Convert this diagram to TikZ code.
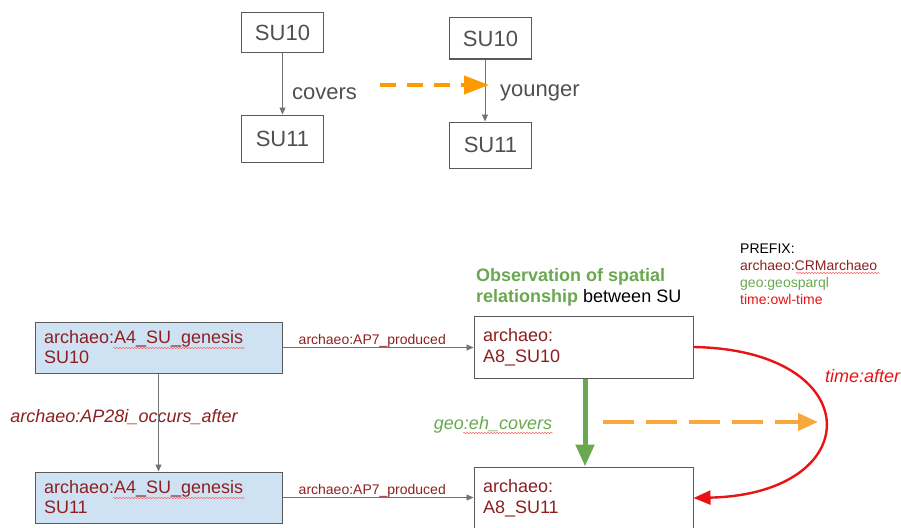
\documentclass[tikz,border=0pt]{standalone}
\usepackage{fontspec}
\setmainfont{Liberation Sans}
\usetikzlibrary{arrows.meta,decorations.pathmorphing}
\definecolor{boxgray}{RGB}{90,90,90}
\definecolor{linegray}{RGB}{115,115,115}
\definecolor{sutext}{RGB}{80,80,80}
\definecolor{archred}{RGB}{140,32,32}
\definecolor{geogreen}{RGB}{106,168,79}
\definecolor{timered}{RGB}{232,20,20}
\definecolor{toporange}{RGB}{255,153,0}
\definecolor{lightorange}{RGB}{249,168,60}
\definecolor{genblue}{RGB}{207,226,243}
\begin{document}
\begin{tikzpicture}[x=1pt,y=-1pt]
        \tikzstyle{su}=[draw=boxgray,line width=1pt,minimum width=82pt,text=sutext,font=\fontsize{22}{26}\selectfont]
        \tikzstyle{genesis}=[draw=boxgray,line width=1pt,fill=genblue,minimum height=51pt,text width=229pt,inner xsep=9pt,align=left,text=archred,font=\fontsize{18}{20}\selectfont]
        \tikzstyle{event}=[draw=boxgray,line width=1pt,fill=white,minimum height=62pt,text width=201pt,inner xsep=9pt,align=left,text=archred,font=\fontsize{18}{21}\selectfont]
        \tikzstyle{lbl}=[inner sep=0pt,font=\fontsize{18}{21}\selectfont]
        \tikzstyle{edge}=[draw=linegray,line width=0.9pt,-{Triangle[length=7pt,width=6pt]}]
        \tikzstyle{squiggle}=[draw=red!60,line width=0.5pt,decorate,decoration={snake,amplitude=0.7pt,segment length=3pt}]
        \useasboundingbox (0,0) rectangle (901,527);
        \clip (0,0) rectangle (901,527);

        % stratigraphy, top
        \node [su,minimum height=40pt] (su10a) at (282.5,33) {SU10};
        \node [su,minimum height=47pt] (su11a) at (282.5,138.5) {SU11};
        \node [su,minimum height=41pt] (su10b) at (490.5,38.5) {SU10};
        \node [su,minimum height=46pt] (su11b) at (490.5,145) {SU11};
        \node [lbl,anchor=west,text=sutext,font=\fontsize{22}{26}\selectfont] (covers) at (292,94) {covers};
        \node [lbl,anchor=west,text=sutext,font=\fontsize{22}{26}\selectfont] (younger) at (500,93) {younger};
        \coordinate (o1) at (380,85);
        \coordinate (o2) at (489,85);

        \path[edge] (su10a) -- (su11a);
        \path[edge] ([xshift=-5.5pt]su10b.south) -- ([xshift=-5.5pt]su11b.north);
        \draw[toporange,line width=4pt,dash pattern=on 16pt off 11pt,-{Triangle[length=25pt,width=18pt]}] (o1) -- (o2);

        % ontology, bottom
        \node [genesis] (genA) at (158.5,347.5) {archaeo:A4\_SU\_genesis\\SU10};
        \node [genesis] (genB) at (158.5,497.5) {archaeo:A4\_SU\_genesis\\SU11};
        \node [event] (obsA) at (583.5,347) {archaeo:\\A8\_SU10};
        \node [event] (obsB) at (583.5,498) {archaeo:\\A8\_SU11};

        \node [lbl,anchor=west,font=\fontsize{18}{21}\selectfont,align=left] (heading) at (476,287)
          {\textcolor{geogreen}{\bfseries Observation of spatial}\\\textcolor{geogreen}{\bfseries relationship} between SU};
        \node [lbl,anchor=west,font=\fontsize{14}{17}\selectfont,align=left] (prefix) at (740,274)
          {PREFIX:\\\textcolor{archred}{archaeo:CRMarchaeo}\\\textcolor{geogreen}{geo:geosparql}\\\textcolor{timered}{time:owl-time}};

        \node [lbl,text=archred,font=\fontsize{18}{21}\itshape] (after) at (124,417) {archaeo:AP28i\_occurs\_after};
        \node [lbl,text=geogreen,font=\fontsize{18}{21}\itshape] (covgeo) at (493,425) {geo:eh\_covers};
        \node [lbl,anchor=west,text=timered,font=\fontsize{18}{21}\itshape] (timeafter) at (825,376) {time:after};

        \path[edge] (genA.south) -- (genB.north);
        \path[edge] (genA.east) -- (genA.east -| obsA.west)
          node[pos=0.47,above,inner sep=0pt,text=archred,font=\fontsize{14}{16}\selectfont] {archaeo:AP7\_produced};
        \path[edge] (genB.east) -- (genB.east -| obsB.west)
          node[pos=0.47,above,inner sep=0pt,text=archred,font=\fontsize{14}{16}\selectfont] {archaeo:AP7\_produced};
        \draw[geogreen,line width=5pt,-{Triangle[length=22pt,width=18pt]}] ([xshift=1.5pt]obsA.south) -- ([xshift=1.5pt]obsB.north);
        \draw[timered,line width=2.4pt,-{Triangle[length=17pt,width=14pt]}] (obsA.east) .. controls +(175,3) and +(175,-4) .. (obsB.east);
        \coordinate (o3) at (603,422);
        \coordinate (o4) at (818,422);
        \draw[lightorange,line width=4pt,dash pattern=on 31pt off 12pt,-{Triangle[length=20pt,width=17pt]}] (o3) -- (o4);

        % spell-check marks
        \draw[squiggle] (113,348) -- (245,348);
        \draw[squiggle] (113,498) -- (245,498);
        \draw[squiggle] (463,433) -- (553,433);
        \draw[squiggle] (796,273) -- (880,273);
\end{tikzpicture}
\end{document}
